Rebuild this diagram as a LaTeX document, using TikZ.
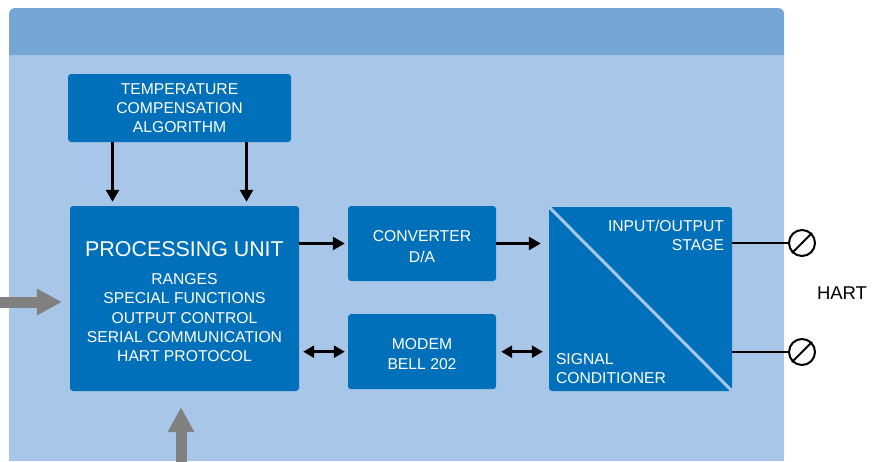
\documentclass[tikz,border=0pt]{standalone}
\usepackage{fontspec}
\setmainfont{Liberation Sans}
\usetikzlibrary{arrows.meta}
\definecolor{bandblue}{HTML}{75A6D5}
\definecolor{paleblue}{HTML}{A8C7E8}
\definecolor{boxblue}{HTML}{0070BA}
\definecolor{feedgray}{HTML}{808080}
\newcommand\boxstrut[1]{\rule{0pt}{#1}}

\begin{document}
\begin{tikzpicture}[x=1pt,y=-1pt,
   box/.style={fill=boxblue,rounded corners=3pt,text=white,align=center,inner sep=0pt,
     font=\fontsize{15.7}{19.3}\selectfont},
   boxtext/.style={text=white,inner sep=0pt,font=\fontsize{15.7}{18.8}\selectfont},
   link/.style={line width=2.6pt,-{Triangle[length=12pt,width=13pt]}},
   duplex/.style={line width=2.6pt,{Triangle[length=11pt,width=12pt]}-{Triangle[length=11pt,width=12pt]}},
   feed/.style={draw=feedgray,line width=11pt,-{Triangle[length=25pt,width=25pt]}},
   terminal/.style={circle,draw,line width=2pt,minimum size=26pt,inner sep=0pt}]
   \useasboundingbox (0,0) rectangle (882,461);
   \fill[paleblue] (9,50) rectangle (784,461);
   \fill[bandblue] (9,55) [rounded corners=6pt] -- (9,8) -- (784,8) [sharp corners] -- (784,55) -- cycle;

   \node[box,minimum width=223pt,minimum height=68pt] (temp) at (179.5,108)
     {TEMPERATURE\\COMPENSATION\\ALGORITHM};
   \node[box,minimum width=229pt,minimum height=185pt] (pu) at (184.5,298.5)
     {\boxstrut{21pt}{\fontsize{21.4}{24}\selectfont PROCESSING UNIT}\\[9pt]
      RANGES\\SPECIAL FUNCTIONS\\OUTPUT CONTROL\\SERIAL COMMUNICATION\\HART PROTOCOL};
   \node[box,minimum width=148pt,minimum height=75pt] (conv) at (422,243.5)
     {\boxstrut{17pt}CONVERTER\\[1pt]D/A};
   \node[box,minimum width=148pt,minimum height=75pt] (modem) at (422,351.7)
     {\boxstrut{16pt}MODEM\\BELL 202};
   \node[box,minimum width=183pt,minimum height=184pt] (io) at (640.5,299) {};
   \draw[paleblue,line width=3pt] (io.north west) -- (io.south east);
   \node[boxtext,align=right,anchor=north east] (iotop) at ([xshift=-8pt,yshift=-13.5pt]io.north east)
     {INPUT/OUTPUT\\STAGE};
   \node[boxtext,align=left,anchor=south west] (iobottom) at ([xshift=7pt,yshift=7.5pt]io.south west)
     {SIGNAL\\CONDITIONER};

   \node[terminal] (t1) at (802,243) {};
   \node[terminal] (t2) at (802,352) {};
   \draw[line width=2pt] (t1.225) -- (t1.45);
   \draw[line width=2pt] (t2.225) -- (t2.45);
   \node[font=\fontsize{18.5}{22}\selectfont] (hart) at (842,293) {HART};

   \draw[link,shorten >=4pt] ([xshift=-67pt]temp.south) -- ([xshift=-67pt]temp.south |- pu.north);
   \draw[link,shorten >=4pt] ([xshift=67pt]temp.south) -- ([xshift=67pt]temp.south |- pu.north);
   \draw[link,shorten >=3pt] (pu.east |- conv.west) -- (conv.west);
   \draw[link,shorten >=8pt] (conv.east) -- (conv.east -| io.west);
   \draw[duplex,shorten <=4pt,shorten >=3pt] (pu.east |- modem.west) -- (modem.west);
   \draw[duplex,shorten <=5pt,shorten >=6pt] (modem.east) -- (modem.east -| io.west);
   \draw[line width=2pt] (io.east |- t1) -- (t1);
   \draw[line width=2pt] (io.east |- t2) -- (t2);

   \coordinate (leftin) at (-2,302);
   \coordinate (bottomin) at (181,470);
   \draw[feed,shorten >=8pt] (leftin) -- (leftin -| pu.west);
   \draw[feed,shorten >=16pt] (bottomin) -- (bottomin |- pu.south);
 \end{tikzpicture}
\end{document}
